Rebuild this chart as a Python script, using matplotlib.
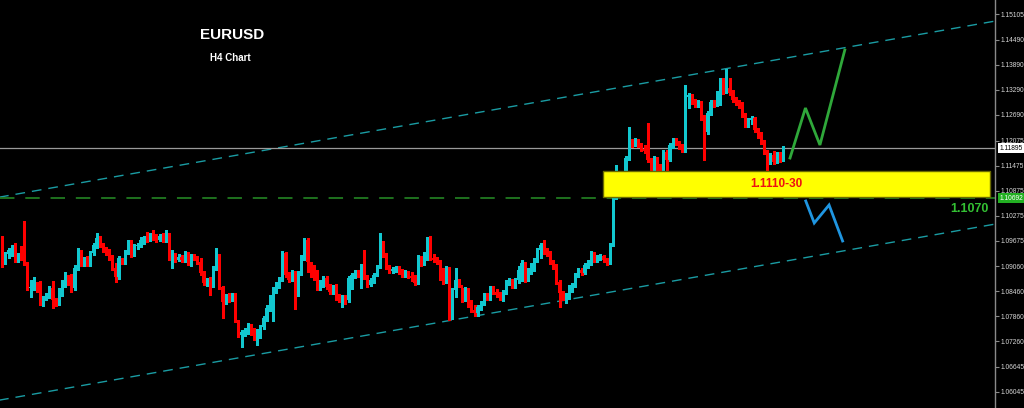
import matplotlib
matplotlib.use('Agg')
import matplotlib.pyplot as plt
import matplotlib.transforms as mtransforms
import numpy as np

# ---------------- data ----------------
symbol = "EURUSD"
timeframe = "H4 Chart"

open_first = 1.09735
closes = [
    1.09087, 1.09351, 1.09447, 1.09495, 1.09207, 1.09327, 1.09255, 1.09135, 1.08535, 1.08559,
    1.08631, 1.08607, 1.08175, 1.08295, 1.08367, 1.08535, 1.08247, 1.08175, 1.08415, 1.08679,
    1.08847, 1.08679, 1.08535, 1.09015, 1.09399, 1.09111, 1.09207, 1.09111, 1.09375, 1.09567,
    1.09735, 1.09567, 1.09447, 1.09375, 1.09255, 1.09015, 1.08799, 1.09255, 1.09159, 1.09399,
    1.09639, 1.09327, 1.09543, 1.09567, 1.09687, 1.09735, 1.09687, 1.09807, 1.09735, 1.09687,
    1.09783, 1.09687, 1.09831, 1.09255, 1.09327, 1.09207, 1.09279, 1.09207, 1.09375, 1.09135,
    1.09303, 1.09255, 1.09159, 1.08895, 1.08655, 1.08727, 1.08607, 1.09015, 1.09327, 1.08559,
    1.08199, 1.08343, 1.08271, 1.08367, 1.07767, 1.07407, 1.07479, 1.07527, 1.07647, 1.07455,
    1.07359, 1.07503, 1.07599, 1.07815, 1.08055, 1.08295, 1.08487, 1.08607, 1.08727, 1.09375,
    1.08847, 1.08727, 1.08895, 1.08415, 1.08895, 1.09255, 1.09687, 1.09159, 1.08919, 1.08799,
    1.08535, 1.08679, 1.08775, 1.08559, 1.08439, 1.08535, 1.08295, 1.08247, 1.08319, 1.08247,
    1.08775, 1.08847, 1.08919, 1.08847, 1.09039, 1.08799, 1.08607, 1.08727, 1.08847, 1.09039,
    1.09615, 1.09327, 1.09039, 1.08943, 1.08991, 1.09015, 1.08919, 1.08847, 1.08919, 1.08823,
    1.08775, 1.08655, 1.09279, 1.09111, 1.09279, 1.09495, 1.09255, 1.09207, 1.09159, 1.08775,
    1.08679, 1.09015, 1.07815, 1.08487, 1.08727, 1.08607, 1.08247, 1.08511, 1.08127, 1.08007,
    1.07935, 1.08079, 1.08175, 1.08367, 1.08295, 1.08535, 1.08439, 1.08367, 1.08295, 1.08439,
    1.08679, 1.08727, 1.08583, 1.08727, 1.08967, 1.09135, 1.08727, 1.08967, 1.09087, 1.09207,
    1.09447, 1.09567, 1.09399, 1.09375, 1.09159, 1.09039, 1.08679, 1.08415, 1.08295, 1.08367,
    1.08559, 1.08607, 1.08847, 1.08967, 1.08895, 1.09087, 1.09159, 1.09375, 1.09207, 1.09279,
    1.09303, 1.09207, 1.09135, 1.09567, 1.10695, 1.11079, 1.10887, 1.10983, 1.11655, 1.12039,
    1.11967, 1.12087, 1.11967, 1.11871, 1.11823, 1.11607, 1.11367, 1.11655, 1.11391, 1.11367,
    1.11799, 1.11607, 1.11967, 1.12087, 1.12015, 1.11919, 1.11847, 1.13119, 1.13167, 1.12999,
    1.12927, 1.12975, 1.12615, 1.12279, 1.12735, 1.12999, 1.12927, 1.13215, 1.13527, 1.13239,
    1.13335, 1.13215, 1.13047, 1.12975, 1.12903, 1.12687, 1.12447, 1.12567, 1.12615, 1.12327,
    1.12183, 1.12039, 1.11799, 1.11559, 1.11727, 1.11559, 1.11751, 1.11607, 1.11895,
]
highs = [
    1.09783, 1.09399, 1.09495, 1.09567, 1.09615, 1.09375, 1.09543, 1.10143, 1.09159, 1.08727,
    1.08799, 1.08679, 1.08703, 1.08343, 1.08415, 1.08583, 1.08703, 1.08295, 1.08535, 1.08727,
    1.08919, 1.08847, 1.08871, 1.09087, 1.09495, 1.09447, 1.09279, 1.09303, 1.09423, 1.09615,
    1.09855, 1.09783, 1.09615, 1.09519, 1.09471, 1.09327, 1.09135, 1.09303, 1.09255, 1.09447,
    1.09687, 1.09687, 1.09591, 1.09615, 1.09759, 1.09783, 1.09879, 1.09855, 1.09927, 1.09831,
    1.09831, 1.09855, 1.09927, 1.09855, 1.09447, 1.09375, 1.09351, 1.09327, 1.09423, 1.09399,
    1.09351, 1.09351, 1.09303, 1.09255, 1.08943, 1.08775, 1.08799, 1.09063, 1.09495, 1.09351,
    1.08583, 1.08391, 1.08415, 1.08415, 1.08415, 1.07767, 1.07527, 1.07575, 1.07695, 1.07671,
    1.07575, 1.07551, 1.07647, 1.07863, 1.08127, 1.08367, 1.08559, 1.08679, 1.08799, 1.09423,
    1.09399, 1.08919, 1.08967, 1.08943, 1.08943, 1.09327, 1.09735, 1.09735, 1.09159, 1.09087,
    1.08967, 1.08727, 1.08823, 1.08823, 1.08631, 1.08607, 1.08631, 1.08391, 1.08367, 1.08367,
    1.08823, 1.08895, 1.08967, 1.08967, 1.09111, 1.09447, 1.08847, 1.08775, 1.08895, 1.09087,
    1.09855, 1.09663, 1.09375, 1.09087, 1.09039, 1.09063, 1.09063, 1.08991, 1.08967, 1.08943,
    1.08919, 1.08847, 1.09327, 1.09303, 1.09399, 1.09759, 1.09783, 1.09351, 1.09279, 1.09207,
    1.09015, 1.09063, 1.09039, 1.08535, 1.09015, 1.08751, 1.08535, 1.08559, 1.08535, 1.08247,
    1.08127, 1.08127, 1.08223, 1.08415, 1.08415, 1.08583, 1.08583, 1.08511, 1.08439, 1.08487,
    1.08727, 1.08775, 1.08751, 1.08775, 1.09063, 1.09207, 1.09159, 1.09015, 1.09135, 1.09255,
    1.09495, 1.09615, 1.09687, 1.09495, 1.09423, 1.09207, 1.09111, 1.08727, 1.08463, 1.08415,
    1.08607, 1.08655, 1.08895, 1.09015, 1.09015, 1.09135, 1.09207, 1.09423, 1.09399, 1.09327,
    1.09351, 1.09327, 1.09255, 1.09615, 1.10743, 1.11487, 1.11199, 1.11127, 1.11703, 1.12399,
    1.12111, 1.12135, 1.12111, 1.12015, 1.11967, 1.12495, 1.11655, 1.11703, 1.11679, 1.11511,
    1.11847, 1.11847, 1.12015, 1.12135, 1.12135, 1.12063, 1.11991, 1.13407, 1.13215, 1.13191,
    1.13071, 1.13047, 1.13023, 1.12687, 1.12783, 1.13047, 1.13047, 1.13263, 1.13575, 1.13575,
    1.13791, 1.13575, 1.13287, 1.13119, 1.13047, 1.12999, 1.12735, 1.12615, 1.12663, 1.12639,
    1.12375, 1.12279, 1.12087, 1.11847, 1.11775, 1.11823, 1.11799, 1.11799, 1.11943,
]
lows = [
    1.09039, 1.09159, 1.09255, 1.09303, 1.09159, 1.09159, 1.09207, 1.09087, 1.08487, 1.08319,
    1.08487, 1.08439, 1.08127, 1.08103, 1.08247, 1.08295, 1.08055, 1.08103, 1.08127, 1.08343,
    1.08559, 1.08607, 1.08439, 1.08487, 1.08967, 1.09063, 1.09063, 1.09063, 1.09063, 1.09327,
    1.09495, 1.09519, 1.09399, 1.09327, 1.09207, 1.08967, 1.08679, 1.08751, 1.09111, 1.09111,
    1.09351, 1.09279, 1.09303, 1.09471, 1.09519, 1.09591, 1.09639, 1.09663, 1.09687, 1.09639,
    1.09663, 1.09639, 1.09639, 1.09207, 1.09015, 1.09159, 1.09183, 1.09159, 1.09159, 1.09087,
    1.09063, 1.09207, 1.09111, 1.08847, 1.08607, 1.08583, 1.08367, 1.08559, 1.08967, 1.08511,
    1.07815, 1.08151, 1.08199, 1.08223, 1.07719, 1.07359, 1.07119, 1.07383, 1.07431, 1.07407,
    1.07287, 1.07167, 1.07335, 1.07551, 1.07743, 1.07983, 1.07743, 1.08415, 1.08535, 1.08703,
    1.08799, 1.08679, 1.08703, 1.08031, 1.08343, 1.08847, 1.09207, 1.08919, 1.08799, 1.08727,
    1.08487, 1.08487, 1.08559, 1.08511, 1.08391, 1.08391, 1.08247, 1.08199, 1.08079, 1.08151,
    1.08199, 1.08511, 1.08775, 1.08799, 1.08535, 1.08751, 1.08559, 1.08583, 1.08655, 1.08823,
    1.09015, 1.09279, 1.08991, 1.08895, 1.08895, 1.08919, 1.08871, 1.08799, 1.08799, 1.08775,
    1.08703, 1.08607, 1.08631, 1.09063, 1.09087, 1.09207, 1.09207, 1.09159, 1.09111, 1.08727,
    1.08631, 1.08655, 1.07767, 1.07791, 1.08319, 1.08559, 1.08199, 1.08223, 1.08079, 1.07959,
    1.07863, 1.07863, 1.08007, 1.08127, 1.08247, 1.08247, 1.08391, 1.08319, 1.08247, 1.08223,
    1.08391, 1.08607, 1.08535, 1.08535, 1.08655, 1.08703, 1.08679, 1.08703, 1.08871, 1.08943,
    1.09159, 1.09255, 1.09351, 1.09303, 1.09111, 1.08991, 1.08631, 1.08079, 1.08247, 1.08175,
    1.08271, 1.08439, 1.08559, 1.08799, 1.08847, 1.08871, 1.09015, 1.09087, 1.09159, 1.09159,
    1.09207, 1.09159, 1.09087, 1.09111, 1.09543, 1.10671, 1.10839, 1.10815, 1.10887, 1.11607,
    1.11919, 1.11943, 1.11919, 1.11823, 1.11775, 1.11559, 1.11319, 1.11343, 1.11343, 1.11319,
    1.11319, 1.10887, 1.11583, 1.11895, 1.11967, 1.11871, 1.11799, 1.11799, 1.12855, 1.12951,
    1.12879, 1.12879, 1.12567, 1.11607, 1.12231, 1.12687, 1.12879, 1.12903, 1.12927, 1.13191,
    1.13215, 1.13167, 1.12999, 1.12927, 1.12855, 1.12639, 1.12399, 1.12399, 1.12471, 1.12279,
    1.12135, 1.11991, 1.11751, 1.11295, 1.11511, 1.11511, 1.11535, 1.11559, 1.11583,
]

y_ticks = [1.15105, 1.14490, 1.13890, 1.13290, 1.12690, 1.12075, 1.11475, 1.10875,
           1.10275, 1.09675, 1.09060, 1.08460, 1.07860, 1.07260, 1.06645, 1.06045]
current_price = 1.11895
support_price = 1.10692
zone_bounds = [1.10719, 1.11343]
zone_bars = [190.8, 313.7]
zone_label = "1.1110-30"
zone_label_bar = 246.0
level_label = "1.1070"

channel_bars = [-1, 316]
upper_channel = [1.10714, 1.14950]
lower_channel = [1.05842, 1.10078]

bull_bars = [250.2, 255.1, 259.7, 267.6]
bull_prices = [1.11655, 1.12855, 1.11967, 1.14247]
bear_bars = [255.2, 257.9, 262.6, 266.9]
bear_prices = [1.10623, 1.10095, 1.10527, 1.09663]

# ---------------- figure ----------------
fig = plt.figure(figsize=(10.24, 4.08), dpi=100, facecolor='black')
ax = fig.add_axes([0, 0, 995 / 1024, 1])
ax.set_facecolor('black')

n = len(closes)
idx = np.arange(n)
c = np.array(closes)
o = np.concatenate([[open_first], c[:-1]])
h = np.array(highs)
l = np.array(lows)
up = c >= o
up_col = '#12c7cf'
dn_col = '#ff0000'
cols = np.where(up, up_col, dn_col)

ax.vlines(idx, l, h, colors=cols, linewidth=1.0, zorder=3, antialiased=False)
body_bot = np.minimum(o, c)
body_h = np.maximum(np.abs(c - o), 0.00010)
ax.bar(idx, body_h, bottom=body_bot, width=0.8, color=cols, linewidth=0, zorder=4,
       antialiased=False)

# channel lines
ax.plot(channel_bars, upper_channel, color='#1a9ca3', lw=1.0, ls=(0, (7, 5)), zorder=2)
ax.plot(channel_bars, lower_channel, color='#1a9ca3', lw=1.0, ls=(0, (7, 5)), zorder=2)

# horizontal lines
ax.axhline(current_price, color='#9a9a9a', lw=0.9, zorder=2)
ax.axhline(support_price, color='#217a21', lw=1.3, ls=(0, (8, 6)), zorder=2)

# yellow zone
ax.fill_between(zone_bars, zone_bounds[0], zone_bounds[1], color='#ffff00',
                edgecolor='#6b6b00', linewidth=1.0, zorder=5)
ax.text(zone_label_bar, sum(zone_bounds) / 2, zone_label, color='#ee1111',
        fontsize=8.5, fontweight='bold', ha='center', va='center',
        family='Liberation Sans', zorder=6)
ax.text(zone_bars[1] - 0.5, 1.10430, level_label, color='#33c033', fontsize=9,
        fontweight='bold', ha='right', va='center', family='Liberation Sans', zorder=6)

# scenario paths
ax.plot(bull_bars, bull_prices, color='#2fa83a', lw=2.0, zorder=6, solid_joinstyle='miter')
ax.plot(bear_bars, bear_prices, color='#1f95e0', lw=2.0, zorder=6, solid_joinstyle='miter')

# titles
ax.text(73, 1.14617, symbol, color='white', fontsize=11, fontweight='bold',
        ha='center', va='center', family='Liberation Sans')
ax.text(72.5, 1.14067, timeframe, color='white', fontsize=7, fontweight='bold',
        ha='center', va='center', family='Liberation Sans')

ax.set_xlim(-0.7, 315.3)
ax.set_ylim(1.05655, 1.15447)

# axes styling
for s in ['top', 'left', 'bottom']:
    ax.spines[s].set_visible(False)
ax.spines['right'].set_color('#8a8a8a')
ax.spines['right'].set_linewidth(1.0)
ax.set_xticks([])
ax.yaxis.tick_right()
ax.set_yticks(y_ticks)
ax.set_yticklabels([f"{v:.5f}" for v in y_ticks])
ax.tick_params(axis='y', colors='#8a8a8a', labelcolor='#d8d8d8', labelsize=4.8,
               length=3, width=0.8, pad=1)
for t in ax.get_yticklabels():
    t.set_family('Liberation Sans')

trans = mtransforms.blended_transform_factory(ax.transAxes, ax.transData)
ax.text(1.0045, current_price, f"{current_price:.5f}", transform=trans, fontsize=4.8,
        color='black', va='center', ha='left', family='Liberation Sans', zorder=10,
        bbox=dict(boxstyle='square,pad=0.2', fc='white', ec='none'), clip_on=False)
ax.text(1.0045, support_price, f"{support_price:.5f}", transform=trans, fontsize=4.8,
        color='white', va='center', ha='left', family='Liberation Sans', zorder=10,
        bbox=dict(boxstyle='square,pad=0.2', fc='#22b022', ec='none'), clip_on=False)

fig.savefig('out.png', dpi=100, facecolor='black')
